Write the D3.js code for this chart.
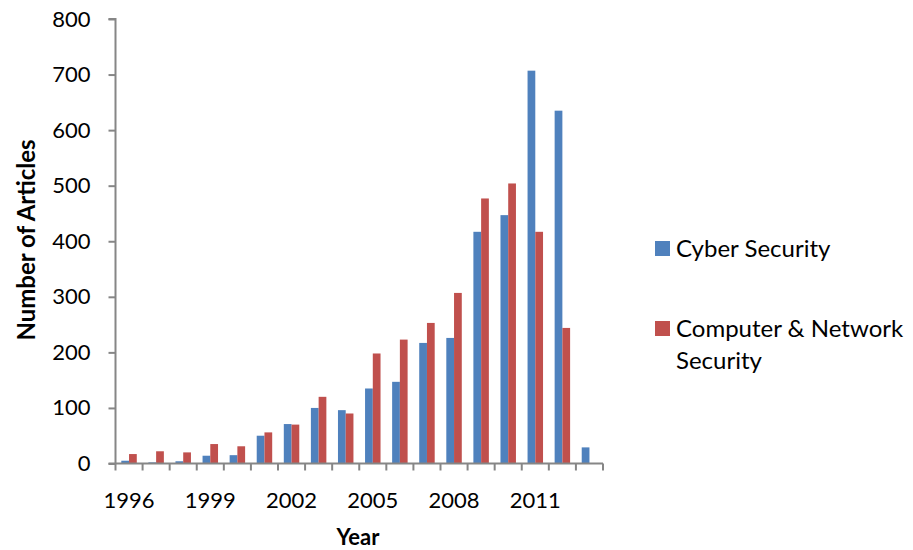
<!DOCTYPE html>
<html><head><meta charset="utf-8">
<script src="https://cdn.jsdelivr.net/npm/d3@7"></script>
<style>body{margin:0;background:#fff}svg{display:block}text{font-family:Lato,"Open Sans",sans-serif;fill:#000}</style>
</head><body><svg id="c" width="913" height="550"></svg>
<script>
const years = [1996,1997,1998,1999,2000,2001,2002,2003,2004,2005,2006,2007,2008,2009,2010,2011,2012,2013];
const cyber = [5,2,4,14,15,50,71,100,96,135,147,217,226,417,447,707,635,29];
const network = [17,22,20,35,31,56,70,120,90,198,223,253,307,477,504,417,244,0];
const seriesNames = ["Cyber Security","Computer & Network Security"];
const colors = ["#4F81BD","#C0504D"];
const yTicks = [0,100,200,300,400,500,600,700,800];
const xTickLabels = [1996,1999,2002,2005,2008,2011];

const svg = d3.select("#c");
const m = {l:115.5, r:603, t:19, b:463.5};
const x = d3.scaleBand().domain(years).range([m.l, m.r]).paddingInner(0).paddingOuter(0);
const y = d3.scaleLinear().domain([0,800]).range([m.b, m.t]);
const bw = x.bandwidth()/3.5;
const series = [cyber, network];

series.forEach((vals,si)=>{
  svg.append("g").selectAll("rect").data(years.map((yr,i)=>({yr,v:vals[i]})).filter(d=>d.v>0))
    .join("rect")
    .attr("x", d=> x(d.yr) + x.bandwidth()/2 - bw + si*bw)
    .attr("y", d=> y(d.v))
    .attr("width", bw)
    .attr("height", d=> y(0)-y(d.v))
    .attr("fill", colors[si]);
});

const axisColor = "#868686";
// y axis
const ya = svg.append("g").attr("transform",`translate(${m.l},0)`)
  .call(d3.axisLeft(y).tickValues(yTicks).tickSize(7).tickPadding(18));
ya.selectAll("path,line").attr("stroke",axisColor).attr("stroke-width",2);
ya.select("path").attr("d",`M-7,${y(800)}H0V${y(0)}`);
ya.selectAll("text").style("font-size","22px").attr("fill","#000");

// x axis with ticks at category boundaries
const xa = svg.append("g").attr("transform",`translate(0,${m.b})`);
xa.append("line").attr("x1",m.l-7).attr("x2",m.r).attr("stroke",axisColor).attr("stroke-width",2);
const bounds = years.map(yr=>x(yr)+x.bandwidth()).concat([x(years[0])]);
xa.selectAll("line.t").data(bounds).join("line").attr("class","t")
  .attr("x1",d=>d).attr("x2",d=>d).attr("y1",0).attr("y2",7)
  .attr("stroke",axisColor).attr("stroke-width",2);
xa.selectAll("text").data(xTickLabels).join("text")
  .attr("x",d=>x(d)+x.bandwidth()/2).attr("y",44)
  .attr("text-anchor","middle").style("font-size","22px").text(d=>d);

// axis titles
svg.append("text").attr("x",358).attr("y",545).attr("text-anchor","middle")
  .style("font-size","22px").style("font-weight","bold").text("Year");
svg.append("text").attr("transform","translate(35,240) rotate(-90)").attr("text-anchor","middle")
  .style("font-size","24px").style("font-weight","bold").text("Number of Articles");

// legend
const lg = svg.append("g");
lg.append("rect").attr("x",655).attr("y",241).attr("width",15).attr("height",15).attr("fill",colors[0]);
lg.append("text").attr("x",676).attr("y",257).style("font-size","24px").text(seriesNames[0]);
lg.append("rect").attr("x",655).attr("y",321).attr("width",15).attr("height",15).attr("fill",colors[1]);
lg.append("text").attr("x",676).attr("y",337).style("font-size","24px").text("Computer & Network");
lg.append("text").attr("x",676).attr("y",369).style("font-size","24px").text("Security");
</script></body></html>
